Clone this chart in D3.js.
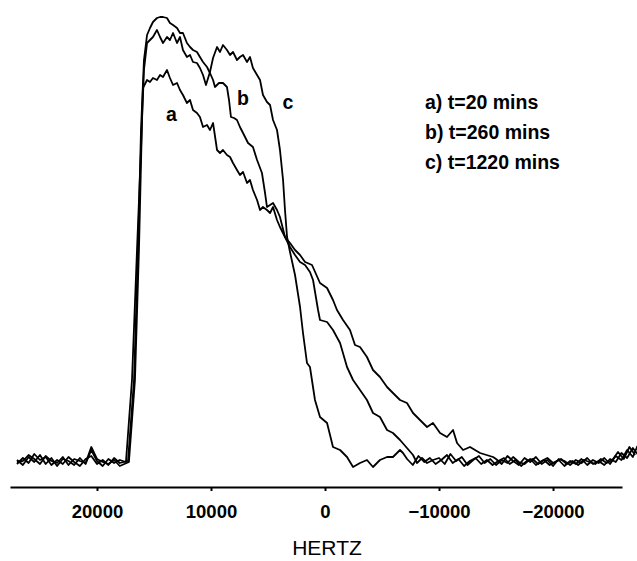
<!DOCTYPE html>
<html lang="en">
  <head>
    <meta charset="utf-8">
    <title>Spectra vs time</title>
    <script src="https://cdn.jsdelivr.net/npm/d3@7"></script>
  </head>
  <style>
    body { margin: 0; background: #fff; }
    .axis path,
    .axis line {
      stroke: #000;
      stroke-width: 2;
    }
    .axis text {
      font-family: "Liberation Sans", Arial, sans-serif;
      font-weight: bold;
      font-size: 18.5px;
    }
    .lbl {
      font-family: "Liberation Sans", Arial, sans-serif;
      font-weight: bold;
      font-size: 19.5px;
    }
  </style>
  <body>
    <div id="svg-area"></div>
    <script>
      const svg_width = 637;
      const svg_height = 561;

      //[frequency in Hz, intensity in arbitrary units]
      const spec_a = [
        [27020, 2], [26500, -3], [26000, 5], [25500, 0], [25000, 7], [24500, -2], [24000, 4], [23500, -4],
        [23000, 3], [22500, 1], [22000, -3], [21500, 4], [21000, -2], [20500, 12], [20000, 1], [19500, -4],
        [19000, 3], [18500, -1], [18000, 2], [17460, 0], [16930, 82], [16490, 212], [16140, 312], [15970, 374],
        [15610, 382], [15350, 380], [15090, 384], [14740, 382], [14470, 387], [14210, 385], [13860, 392],
        [13600, 384], [13330, 377], [12980, 379], [12720, 372], [12460, 367], [12110, 359], [11840, 362],
        [11580, 352], [11230, 349], [10970, 345], [10700, 335], [10350, 337], [10090, 332], [9820, 339],
        [9470, 312], [9210, 309], [8950, 312], [8600, 307], [8330, 305], [8070, 299], [7720, 292], [7460, 287],
        [7190, 290], [6840, 279], [6580, 282], [6320, 272], [5960, 262], [5700, 252], [5440, 255], [5090, 252],
        [4820, 249], [4560, 255], [4210, 242], [3950, 235], [3510, 225], [3070, 219], [2630, 212], [2190, 207],
        [1750, 200], [1140, 197], [440, 179], [-180, 174], [-700, 162], [-1050, 152], [-1580, 142], [-2190, 132],
        [-2630, 117], [-3070, 115], [-3680, 105], [-4210, 92], [-4820, 85], [-5440, 75], [-5960, 69], [-6580, 62],
        [-7190, 59], [-7720, 49], [-8330, 42], [-8950, 35], [-9470, 39], [-10090, 29], [-10700, 25], [-11230, 32],
        [-11580, 19], [-12110, 12], [-12720, 15], [-13600, 9], [-14740, 5], [-15000, 3], [-15500, -2], [-16000, 6],
        [-16500, 1], [-17000, -3], [-17500, 4], [-18000, 0], [-18500, 5], [-19000, -2], [-19500, 2], [-20000, -4],
        [-20500, 3], [-21000, 1], [-21500, -3], [-22000, 2], [-22500, -1], [-23000, 4], [-23500, -2], [-24000, 1],
        [-24500, -3], [-25000, 3], [-25500, 0], [-26000, 9], [-26500, 4], [-27000, 14], [-27400, 8]
      ];

      const spec_b = [
        [27020, -2], [26500, 4], [26000, -1], [25500, 8], [25000, 2], [24500, 5], [24000, -3], [23500, 2],
        [23000, -2], [22500, 5], [22000, 0], [21500, -4], [21000, 3], [20500, 6], [20000, -2], [19500, 2],
        [19000, -3], [18500, 4], [18000, -1], [17280, 1], [16750, 82], [16400, 212], [16140, 332], [15880, 402],
        [15610, 427], [15350, 434], [15090, 440], [14740, 444], [14470, 445], [14210, 445], [13860, 444],
        [13600, 439], [13330, 437], [12980, 434], [12720, 429], [12460, 429], [12110, 419], [11840, 415],
        [11580, 412], [11230, 410], [10970, 405], [10700, 400], [10350, 395], [10090, 389], [9820, 382],
        [9650, 375], [9300, 379], [8950, 379], [8600, 375], [8420, 362], [8250, 345], [7980, 344], [7720, 342],
        [7460, 335], [7190, 329], [6750, 319], [6320, 315], [5960, 302], [5530, 289], [5260, 269], [5090, 255],
        [4820, 257], [4560, 259], [4210, 252], [3950, 245], [3510, 225], [3070, 215], [2630, 207], [2190, 200],
        [1750, 197], [1320, 190], [1050, 182], [610, 152], [440, 142], [-180, 140], [-700, 132], [-1320, 119],
        [-1930, 95], [-2460, 82], [-3070, 72], [-3680, 62], [-4210, 49], [-4820, 45], [-5440, 32], [-5960, 29],
        [-6580, 22], [-7190, 14], [-7720, 7], [-8070, -1], [-8510, 4], [-8950, -1], [-9470, 2], [-10000, 4],
        [-10500, -2], [-11000, 8], [-11500, 1], [-12000, 5], [-12500, -3], [-13000, 2], [-13500, 6], [-14000, -1],
        [-14500, 3], [-15000, -3], [-15500, 2], [-16000, -1], [-16500, 5], [-17000, 0], [-17500, -2], [-18000, 3],
        [-18500, -3], [-19000, 1], [-19500, 4], [-20000, -1], [-20500, 2], [-21000, -4], [-21500, 1], [-22000, -2],
        [-22500, 3], [-23000, -3], [-23500, 2], [-24000, -1], [-24500, 4], [-25000, -2], [-25500, 6], [-26000, 2],
        [-26500, 12], [-27000, 5], [-27400, 16]
      ];

      const spec_c = [
        [27020, 0], [26500, 1], [26000, 7], [25500, 3], [25000, -2], [24500, 6], [24000, 1], [23500, -1],
        [23000, 5], [22500, -3], [22000, 3], [21500, 1], [21000, -1], [20500, 15], [20000, 3], [19500, 0],
        [19000, -2], [18500, 2], [18000, -4], [17200, 0], [16670, 82], [16320, 212], [16050, 342], [15880, 392],
        [15610, 419], [15350, 422], [15090, 425], [14740, 432], [14470, 425], [14210, 419], [13860, 425],
        [13600, 422], [13330, 429], [12980, 419], [12720, 425], [12460, 412], [12110, 405], [11840, 407],
        [11580, 400], [11230, 399], [10970, 394], [10700, 387], [10440, 377], [10090, 390], [9820, 404],
        [9470, 415], [9210, 410], [8950, 417], [8600, 412], [8330, 407], [8070, 410], [7720, 402], [7460, 405],
        [7190, 407], [6840, 400], [6580, 405], [6320, 394], [5960, 387], [5700, 382], [5440, 367], [5090, 360],
        [4820, 357], [4560, 342], [4210, 332], [3950, 312], [3680, 282], [3510, 252], [3330, 225], [3070, 210],
        [2630, 187], [2190, 155], [1930, 129], [1580, 99], [1320, 95], [880, 62], [440, 45], [-180, 39],
        [-700, 15], [-1320, 12], [-1930, 5], [-2460, -5], [-3070, -1], [-3680, 2], [-4210, -5], [-4820, 2],
        [-5440, 5], [-5960, 5], [-6580, 12], [-6840, 9], [-7200, 3], [-7700, -3], [-8200, 6], [-8700, 0],
        [-9200, 4], [-9700, -2], [-10200, 2], [-10700, 7], [-11200, -1], [-11700, 3], [-12200, -4], [-12700, 1],
        [-13200, 4], [-13700, -2], [-14200, 2], [-14700, -3], [-15200, 1], [-15700, 4], [-16200, -2], [-16700, 2],
        [-17200, -4], [-17700, 1], [-18200, 3], [-18700, -2], [-19200, 2], [-19700, -3], [-20200, 0], [-20700, 3],
        [-21200, -2], [-21700, 1], [-22200, -3], [-22700, 2], [-23200, 0], [-23700, -2], [-24200, 3], [-24700, -1],
        [-25200, 2], [-25700, 10], [-26200, 3], [-26700, 15], [-27200, 7]
      ];

      const x_ticks = [20000, 10000, 0, -10000, -20000];
      const legend_items = ['a) t=20 mins', 'b) t=260 mins', 'c) t=1220 mins'];
      //curve name, where the letter sits [Hz, intensity]
      const curve_labels = [['a', 13470, 341], ['b', 7190, 357], ['c', 3250, 353]];

      //create svg element
      const svg = d3.select('#svg-area')
        .append('svg')
        .attr('width', svg_width)
        .attr('height', svg_height);

      //set scaling (frequency runs high to low)
      const x_scale = d3.scaleLinear()
        .domain([27630, -26050])
        .range([10, 622]);

      const y_scale = d3.scaleLinear()
        .domain([0, 445])
        .range([462, 17]);

      //axis
      const x_axis = d3.axisBottom(x_scale)
        .tickValues(x_ticks)
        .tickFormat(d3.format('d'))
        .tickSize(4)
        .tickSizeOuter(0)
        .tickPadding(14);

      svg.append('g')
        .attr('class', 'axis')
        .attr('transform', 'translate(0,487)')
        .call(x_axis);

      svg.append('text')
        .attr('x', x_scale(0) + 2)
        .attr('y', 555)
        .attr('text-anchor', 'middle')
        .style('font-family', '"Liberation Sans", Arial, sans-serif')
        .style('font-size', '21px')
        .text('HERTZ');

      //plot spectra
      const line = d3.line()
        .x((d) => x_scale(d[0]))
        .y((d) => y_scale(d[1]));

      svg.selectAll('path.spec')
        .data([spec_a, spec_b, spec_c])
        .enter()
        .append('path')
        .attr('class', 'spec')
        .attr('d', line)
        .attr('fill', 'none')
        .attr('stroke', '#000')
        .attr('stroke-width', 1.8)
        .attr('stroke-linejoin', 'round');

      //curve letters
      svg.selectAll('text.curve')
        .data(curve_labels)
        .enter()
        .append('text')
        .attr('class', 'lbl')
        .attr('x', (d) => x_scale(d[1]))
        .attr('y', (d) => y_scale(d[2]))
        .attr('text-anchor', 'middle')
        .text((d) => d[0]);

      //legend
      svg.selectAll('text.legend')
        .data(legend_items)
        .enter()
        .append('text')
        .attr('class', 'lbl')
        .attr('x', 425)
        .attr('y', (d, i) => 109 + i * 30)
        .text((d) => d);
    </script>
  </body>
</html>
